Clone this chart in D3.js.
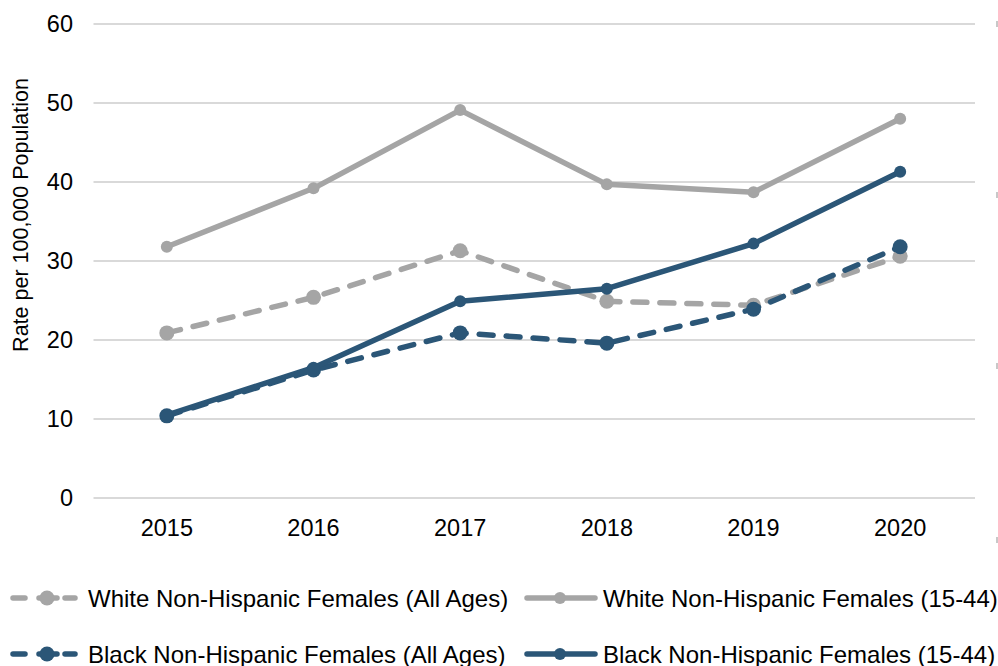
<!DOCTYPE html>
<html><head><meta charset="utf-8">
<script src="https://cdn.jsdelivr.net/npm/d3@7"></script>
<style>body{margin:0;background:#fff;} svg{display:block;font-family:"Liberation Sans",Arial,sans-serif;}</style>
</head><body>
<svg id="chart" width="998" height="666"></svg>
<script>
const years = ["2015","2016","2017","2018","2019","2020"];
const whiteAll = [20.9, 25.4, 31.3, 24.9, 24.4, 30.6];
const white1544 = [31.8, 39.2, 49.1, 39.7, 38.7, 48.0];
const blackAll = [10.4, 16.2, 20.9, 19.6, 23.9, 31.8];
const black1544 = [10.5, 16.5, 24.9, 26.5, 32.2, 41.3];
const yTicks = [0, 10, 20, 30, 40, 50, 60];
const seriesNames = ["White Non-Hispanic Females (All Ages)", "White Non-Hispanic Females (15-44)", "Black Non-Hispanic Females (All Ages)", "Black Non-Hispanic Females (15-44)"];

const GRAY = "#A5A5A5", BLUE = "#2B5677";
const series = [
  {name: seriesNames[0], values: whiteAll, color: GRAY, dashed: true},
  {name: seriesNames[1], values: white1544, color: GRAY, dashed: false},
  {name: seriesNames[2], values: blackAll, color: BLUE, dashed: true},
  {name: seriesNames[3], values: black1544, color: BLUE, dashed: false}
];

const svg = d3.select("#chart");
const x = d3.scaleBand().domain(years).range([93.5, 973.5]);
const y = d3.scaleLinear().domain([0, 60]).range([498, 24]);

// gridlines
svg.append("g").selectAll("line").data(yTicks).join("line")
  .attr("x1", 93.5).attr("x2", 975).attr("y1", d => y(d)).attr("y2", d => y(d))
  .attr("stroke", "#D9D9D9").attr("stroke-width", 2);

// y axis labels
const yAxis = d3.axisLeft(y).tickValues(yTicks).tickSize(0).tickPadding(0);
const gy = svg.append("g").attr("transform", "translate(73,0)").call(yAxis);
gy.select(".domain").remove();
gy.selectAll("text").attr("font-size", 23.5).attr("fill", "#000").attr("font-family", "Liberation Sans, Arial, sans-serif");

// x axis labels
const xAxis = d3.axisBottom(x).tickSize(0).tickPadding(0);
const gx = svg.append("g").call(xAxis);
gx.select(".domain").remove();
gx.selectAll("text").attr("y", 535.5).attr("dy", null).attr("font-size", 23.5).attr("fill", "#000").attr("font-family", "Liberation Sans, Arial, sans-serif");

// y axis title
svg.append("text").attr("transform", "translate(28,215) rotate(-90)")
  .attr("text-anchor", "middle").attr("font-size", 21.5).attr("fill", "#000")
  .text("Rate per 100,000 Population");

// right-edge remnants
svg.append("g").selectAll("rect").data([24, 195, 366, 540]).join("rect")
  .attr("x", 996).attr("y", d => d - 3).attr("width", 2).attr("height", 6).attr("fill", "#C8C8C8");

const line = d3.line().x((d, i) => x(years[i]) + x.bandwidth() / 2).y(d => y(d));

const drawOrder = [series[1], series[0], series[2], series[3]];
drawOrder.forEach(s => {
  const g = svg.append("g");
  g.append("path").attr("d", line(s.values)).attr("fill", "none")
    .attr("stroke", s.color).attr("stroke-width", 5.5)
    .attr("stroke-linejoin", "round").attr("stroke-linecap", s.dashed ? "round" : "butt")
    .attr("stroke-dasharray", s.dashed ? "14,13" : null);
  g.selectAll("circle").data(s.values).join("circle")
    .attr("cx", (d, i) => x(years[i]) + x.bandwidth() / 2).attr("cy", d => y(d))
    .attr("r", s.dashed ? 7.5 : 6).attr("fill", s.color);
});

// legend
const legendPos = [
  {lx: 13, ly: 598}, {lx: 527, ly: 598}, {lx: 13, ly: 654}, {lx: 527, ly: 654}
];
series.forEach((s, i) => {
  const p = legendPos[i];
  const g = svg.append("g").attr("transform", `translate(${p.lx},${p.ly})`);
  if (s.dashed) {
    [[0, 12], [26, 44], [52, 62]].forEach(([a, b]) => {
      g.append("line").attr("x1", a).attr("x2", b).attr("y1", 0).attr("y2", 0)
        .attr("stroke", s.color).attr("stroke-width", 5.5).attr("stroke-linecap", "round");
    });
    g.append("circle").attr("cx", 34).attr("cy", 0).attr("r", 7.5).attr("fill", s.color);
    g.append("text").attr("x", 75).attr("y", 8.5).attr("font-size", 24).attr("fill", "#000").text(s.name);
  } else {
    g.append("line").attr("x1", 0).attr("x2", 68).attr("y1", 0).attr("y2", 0)
      .attr("stroke", s.color).attr("stroke-width", 5.5).attr("stroke-linecap", "round");
    g.append("circle").attr("cx", 33).attr("cy", 0).attr("r", 6).attr("fill", s.color);
    g.append("text").attr("x", 76).attr("y", 8.5).attr("font-size", 24).attr("fill", "#000").text(s.name);
  }
});
</script>
</body></html>
